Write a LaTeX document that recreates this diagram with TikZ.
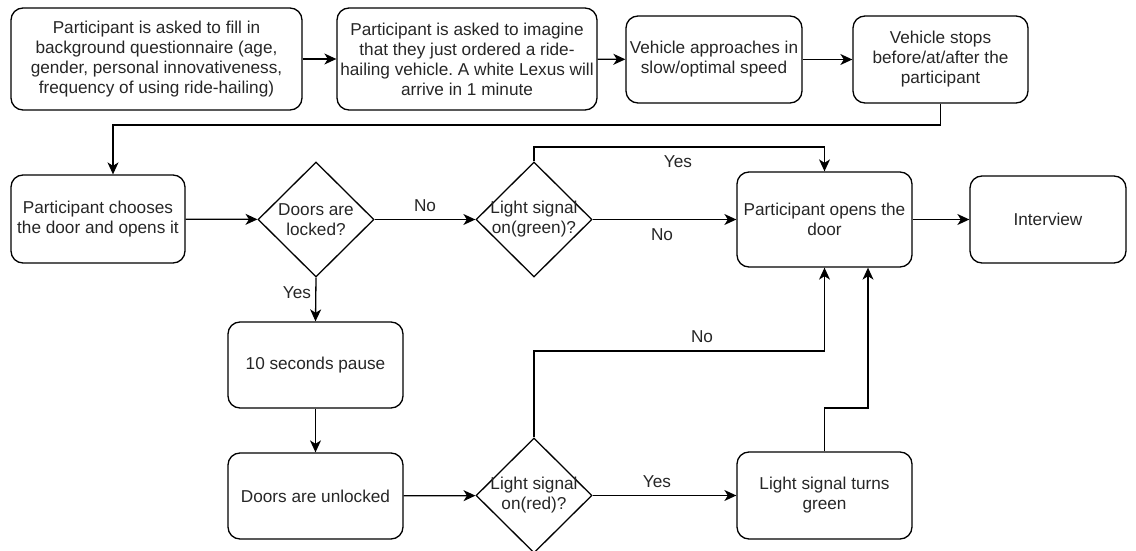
\documentclass[tikz,border=0pt]{standalone}
\usepackage{fontspec}
\setmainfont{Liberation Sans}
\frenchspacing
\usetikzlibrary{shapes.geometric,arrows.meta}
\tikzset{
  txt/.style={font=\fontsize{17.2}{20}\selectfont\frenchspacing, text=black!85},
  box/.style={txt, draw, line width=1.3pt, rounded corners=12pt, align=center, inner sep=0pt},
  dia/.style={draw, line width=1.3pt, shape=diamond, inner sep=0pt, minimum width=116pt, minimum height=115pt},
  dlab/.style={txt, align=center, inner sep=0pt},
  lab/.style={txt, inner sep=0pt},
  conn/.style={line width=1.3pt, -{Stealth[length=12pt,width=11pt,inset=3.5pt]}},
}
\begin{document}
\begin{tikzpicture}[x=1pt,y=-1pt]
\useasboundingbox (0,0) rectangle (1136,551);
\node[box, minimum width=291pt, minimum height=102pt] (b1) at (156.5,59)
  {Participant is asked to fill in\\background questionnaire (age,\\gender, personal innovativeness,\\frequency of using ride-hailing)};
\node[box, minimum width=260pt, minimum height=102pt] (b2) at (467,59)
  {Participant is asked to imagine\\that they just ordered a ride-\\hailing vehicle. A white Lexus will\\arrive in 1 minute};
\node[box, minimum width=176pt, minimum height=87pt] (b3) at (714,59.5)
  {Vehicle approaches in\\slow/optimal speed};
\node[box, minimum width=175pt, minimum height=87pt] (b4) at (940.5,59.5)
  {Vehicle stops\\before/at/after the\\participant};
\node[box, minimum width=174pt, minimum height=88pt] (b5) at (98,219)
  {Participant chooses\\the door and opens it};
\node[dia, label={[dlab]center:Doors are\\locked?}] (d1) at (316,219.5) {};
\node[dia, label={[dlab]center:Light signal\\on(green)?}] (d2) at (534,219.5) {};
\node[box, minimum width=175pt, minimum height=95pt] (b6) at (824.5,219.5)
  {Participant opens the\\door};
\node[box, minimum width=156pt, minimum height=87pt] (iv) at (1048,219.5) {Interview};
\node[box, minimum width=175pt, minimum height=86pt] (b7) at (315.5,365) {10 seconds pause};
\node[box, minimum width=175pt, minimum height=86pt] (b8) at (315.5,496) {Doors are unlocked};
\node[dia, label={[dlab]center:Light signal\\on(red)?}] (d3) at (534,495.5) {};
\node[box, minimum width=175pt, minimum height=87pt] (b9) at (824.5,495.5)
  {Light signal turns\\green};

\coordinate (c1) at (113,125);
\coordinate (c2) at (534,147);
\coordinate (c3) at (534,351);
\coordinate (c4) at (824.5,408);
\coordinate (c5) at (868,408);

\draw[conn] (b1) -- (b2);
\draw[conn] (b2) -- (b3);
\draw[conn] (b3) -- (b4);
\draw[conn] (b4.south) |- (c1) -- (c1 |- b5.north);
\draw[conn] (b5) -- (d1);
\draw[conn] (d1) -- (d2);
\draw[conn] (d2.north) -- (c2) -| (b6.north);
\draw[conn] (d2) -- (b6);
\draw[conn] (b6) -- (iv);
\draw[conn] (d1.south) -- (b7.north);
\draw[conn] (b7) -- (b8);
\draw[conn] (b8) -- (d3);
\draw[conn] (d3.north) -- (c3) -| (b6.south);
\draw[conn] (d3) -- (b9);
\draw[conn] (b9.north) -- (c4) -- (c5) -- (c5 |- b6.south);

\node[lab] (l1) at (425,206) {No};
\node[lab] (l2) at (678,162) {Yes};
\node[lab] (l3) at (662,235) {No};
\node[lab] (l4) at (297,293) {Yes};
\node[lab] (l5) at (702,337) {No};
\node[lab] (l6) at (657,482) {Yes};
\end{tikzpicture}
\end{document}
